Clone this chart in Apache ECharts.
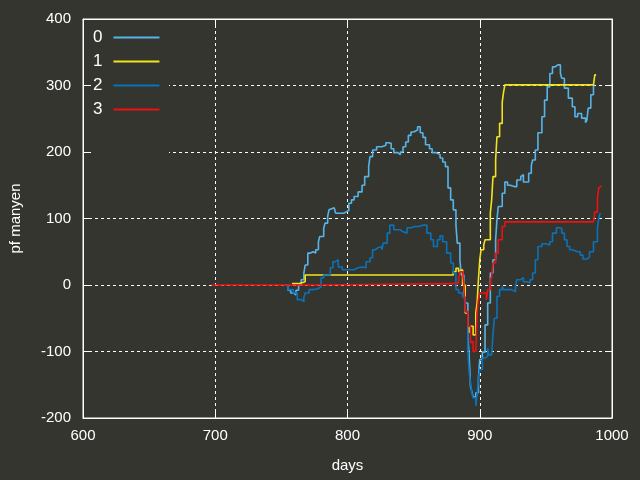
<!DOCTYPE html>
<html><head><meta charset="utf-8">
<script src="https://cdn.jsdelivr.net/npm/echarts@6/dist/echarts.min.js"></script>
<style>html,body{margin:0;padding:0;background:#353530;}#c{width:640px;height:480px;}</style>
</head><body><div id="c"></div>
<script>
const seriesNames = ['0', '1', '2', '3'];
const seriesColors = ['#56b4e9', '#f2e41c', '#0a72b8', '#ee1111'];
const xTicks = [600, 700, 800, 900, 1000];
const yTicks = [-200, -100, 0, 100, 200, 300, 400];

const s0 = [[753,0],[755,-8],[757,-12],[759,-15],[761,-8],[763,0],[765,8],[767,18],[768,30],[770,48],[772,50],[774,48],[776,53],[778,65],[779,73],[782,85],[783,93],[785,103],[786,113],[787,116],[790,113],[791,108],[795,108],[797,110],[799,112],[801,123],[803,128],[805,133],[808,140],[811,150],[813,163],[816,178],[817,193],[819,203],[822,208],[826,210],[829,214],[831,213],[833,205],[835,199],[838,196],[840,200],[842,208],[844,215],[846,225],[848,230],[850,233],[853,238],[855,229],[857,222],[859,211],[862,205],[864,199],[867,196],[870,191],[872,185],[874,178],[876,146],[878,128],[880,113],[882,90],[883,63],[885,38],[886,15],[888,-10],[889,-27],[891,-77],[892,-107],[893,-153],[894,-160],[895,-168],[897,-162],[899,-140],[900,-112],[902,-101],[904,-60],[906,-27],[908,18],[910,38],[912,68],[913,98],[914,118],[917,138],[919,155],[921,150],[923,148],[926,148],[928,158],[931,163],[932,166],[933,155],[935,155],[937,168],[939,180],[940,188],[942,203],[944,229],[947,253],[949,278],[951,298],[953,318],[955,328],[957,331],[959,331],[961,318],[962,311],[964,296],[967,281],[970,268],[972,253],[974,258],[977,251],[980,244],[981,248],[982,266],[984,286],[986,301]];
const s1 = [[758,2],[763,5],[768,15],[878,15],[880,20],[882,25],[884,20],[885,23],[887,0],[889,-42],[891,-57],[892,-72],[893,-62],[895,-75],[897,-42],[898,-27],[899,8],[900,38],[901,53],[903,60],[904,68],[908,108],[909,128],[910,163],[912,188],[913,223],[915,243],[917,275],[918,290],[919,301],[986,301],[987,316],[988,316]];
const s2 = [[753,0],[755,-7],[759,-12],[762,-22],[765,-25],[767,-19],[768,-12],[771,-7],[774,-6],[777,-3],[780,11],[782,15],[787,26],[789,35],[791,38],[793,27],[796,23],[800,23],[805,26],[808,27],[811,26],[814,35],[817,41],[819,53],[821,56],[823,58],[826,53],[827,63],[830,78],[832,90],[835,83],[840,80],[842,78],[845,86],[848,88],[851,88],[854,90],[857,93],[858,90],[860,78],[863,68],[865,58],[868,68],[870,74],[872,65],[875,48],[878,33],[880,18],[882,-7],[884,-12],[887,-18],[889,-40],[891,-97],[892,-132],[893,-147],[894,-162],[895,-170],[897,-182],[898,-165],[899,-142],[900,-127],[902,-110],[904,-107],[906,-95],[907,-105],[909,-105],[910,-75],[911,-50],[913,-17],[915,-7],[917,-2],[918,-7],[922,-7],[924,-10],[927,-2],[928,8],[931,11],[933,5],[936,3],[938,8],[940,18],[942,38],[944,58],[947,62],[950,60],[953,65],[955,78],[958,86],[960,85],[962,78],[964,68],[966,58],[968,53],[970,50],[974,50],[976,45],[978,39],[981,42],[983,50],[986,65],[989,86],[990,100],[991,108]];
const s3 = [[697,0],[768,0],[780,2],[878,2],[881,3],[884,8],[885,20],[887,23],[888,0],[889,-40],[891,-62],[893,-87],[894,-85],[895,-100],[897,-100],[898,-42],[899,-22],[900,-12],[903,-12],[905,-22],[906,-7],[908,8],[909,12],[910,33],[912,48],[914,68],[917,88],[919,95],[986,96],[987,110],[989,131],[990,146],[991,149],[992,149]];
const seriesData = [s0, s1, s2, s3];

const bg = '#353530';
const font = 'Liberation Sans, Arial, sans-serif';
const chart = echarts.init(document.getElementById('c'));
const gridLine = {show:true, lineStyle:{color:'#ffffff', type:[3,3], width:1}};
const tick = {show:true, inside:true, length:7, lineStyle:{color:'#ffffff'}};
chart.setOption({
  backgroundColor: bg,
  animation: false,
  grid: {left:82, right:28, top:19, bottom:62, show:true, borderColor:'#ffffff', borderWidth:1},
  xAxis: [{
    type:'value', min:xTicks[0], max:xTicks[xTicks.length-1], interval:100,
    name:'days', nameLocation:'middle', nameGap:40,
    nameTextStyle:{color:'#ffffff', fontSize:15, fontFamily:font},
    axisLine:{onZero:false, lineStyle:{color:'#ffffff'}}, axisTick:tick,
    axisLabel:{color:'#ffffff', fontSize:15, fontFamily:font, margin:10, formatter:v=>String(v)},
    splitLine:gridLine
  },{
    type:'value', position:'top', min:xTicks[0], max:xTicks[xTicks.length-1], interval:100,
    axisLine:{onZero:false, lineStyle:{color:'#ffffff'}}, axisTick:tick, axisLabel:{show:false}, splitLine:{show:false}
  }],
  yAxis: [{
    type:'value', min:yTicks[0], max:yTicks[yTicks.length-1], interval:100,
    name:'pf manyen', nameLocation:'middle', nameGap:60,
    nameTextStyle:{color:'#ffffff', fontSize:15, fontFamily:font},
    axisLine:{onZero:false, lineStyle:{color:'#ffffff'}}, axisTick:tick,
    axisLabel:{color:'#ffffff', fontSize:15, fontFamily:font, margin:12},
    splitLine:gridLine
  },{
    type:'value', position:'right', min:yTicks[0], max:yTicks[yTicks.length-1], interval:100,
    axisLine:{onZero:false, lineStyle:{color:'#ffffff'}}, axisTick:tick, axisLabel:{show:false}, splitLine:{show:false}
  }],
  graphic: [{type:'rect', shape:{x:91, y:20, width:78, height:136}, style:{fill:bg}, z:1, silent:true}],
  legend: {
    orient:'vertical', left:88, top:24, align:'right', itemGap:7, itemWidth:46, itemHeight:12,
    textStyle:{color:'#ffffff', fontSize:17, fontFamily:font, padding:[0,6,0,0]},
    data: seriesNames.map((n,i)=>({name:n, icon:'path://M0,5L46,5L46,7L0,7Z',
      itemStyle:{color:seriesColors[i], borderWidth:0}, lineStyle:{color:seriesColors[i], width:0}})),
    z:10
  },
  series: seriesNames.map((n,i)=>({
    name:n, type:'line', step:'end', data:seriesData[i], showSymbol:false, symbol:'none',
    lineStyle:{color:seriesColors[i], width:1.6}, itemStyle:{color:seriesColors[i]}, z:3
  }))
});
</script></body></html>
